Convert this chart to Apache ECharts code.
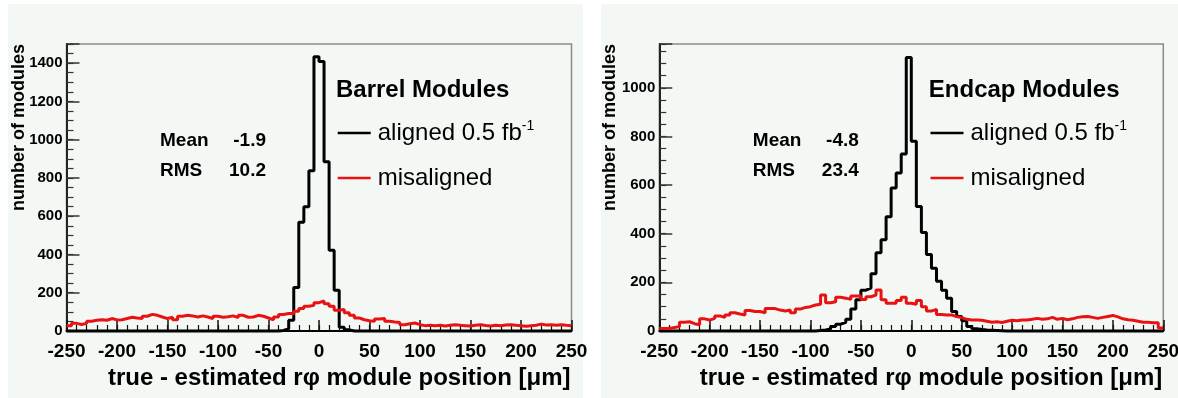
<!DOCTYPE html>
<html>
<head>
<meta charset="utf-8">
<title>Module position residuals</title>
<script src="https://cdn.jsdelivr.net/npm/echarts@6.0.0/dist/echarts.min.js"></script>
<style>
  html, body { margin: 0; padding: 0; background: #fff; }
  #chart { width: 1178px; height: 398px; }
</style>
</head>
<body>
<div id="chart"></div>
<script>
// histogram binning: 100 bins of 5 um from -250 to 250
const binLow = -250
const binWidth = 5

const barrelAligned = [
  0, 0, 0, 0, 0, 0, 0, 0, 0, 0,
  0, 0, 0, 0, 0, 0, 0, 0, 0, 0,
  0, 0, 0, 0, 0, 0, 0, 0, 0, 0,
  0, 0, 0, 0, 0, 0, 0, 0, 0, 0,
  0, 0, 3, 12, 56, 228, 568, 650, 838, 1434,
  1408, 885, 422, 213, 20, 6, 0, 0, 0, 0,
  0, 0, 0, 0, 0, 0, 0, 0, 0, 0,
  0, 0, 0, 0, 0, 0, 0, 0, 0, 0,
  0, 0, 0, 0, 0, 0, 0, 0, 0, 0,
  0, 0, 0, 0, 0, 0, 0, 0, 0, 0
]

const barrelMisaligned = [
  28, 40, 34, 40, 51, 56, 59, 56, 65, 58,
  59, 65, 72, 68, 65, 77, 87, 82, 73, 65,
  72, 59, 77, 82, 79, 73, 79, 73, 65, 77,
  72, 75, 79, 70, 82, 72, 73, 82, 77, 68,
  59, 73, 86, 91, 92, 103, 117, 129, 134, 148,
  157, 143, 129, 108, 113, 96, 82, 68, 59, 54,
  51, 63, 65, 51, 47, 44, 33, 38, 42, 33,
  28, 30, 28, 30, 26, 30, 33, 30, 28, 26,
  30, 33, 29, 26, 30, 28, 31, 33, 30, 28,
  25, 28, 30, 36, 31, 33, 30, 33, 30, 28
]

const endcapAligned = [
  0, 0, 0, 0, 0, 0, 0, 0, 0, 0,
  0, 0, 0, 0, 0, 0, 0, 0, 0, 0,
  0, 0, 0, 0, 0, 0, 0, 0, 0, 0,
  0, 2, 4, 8, 18, 28, 36, 48, 90, 128,
  168, 176, 235, 322, 375, 470, 588, 650, 728, 1125,
  780, 512, 405, 315, 258, 205, 168, 135, 80, 60,
  42, 18, 9, 6, 4, 3, 2, 1, 0, 0,
  0, 0, 0, 0, 0, 0, 0, 0, 0, 0,
  0, 0, 0, 0, 0, 0, 0, 0, 0, 0,
  0, 0, 0, 0, 0, 0, 0, 0, 0, 0
]

const endcapMisaligned = [
  10, 10, 14, 18, 36, 38, 30, 26, 50, 45,
  52, 62, 56, 66, 75, 70, 66, 84, 80, 80,
  75, 92, 92, 86, 82, 86, 75, 90, 97, 100,
  107, 110, 148, 116, 120, 139, 135, 130, 144, 144,
  130, 141, 148, 169, 128, 114, 114, 125, 139, 114,
  110, 125, 100, 82, 89, 68, 66, 66, 59, 55,
  48, 45, 45, 44, 40, 36, 38, 35, 40, 44,
  42, 45, 45, 48, 52, 48, 50, 56, 48, 52,
  46, 50, 56, 59, 60, 56, 52, 56, 60, 64,
  58, 50, 46, 44, 40, 36, 36, 34, 34, 12
]

const statLabels = ['Mean', 'RMS']
const barrelStats = ['-1.9', '10.2']
const endcapStats = ['-4.8', '23.4']
const panelTitles = ['Barrel Modules', 'Endcap Modules']
const seriesNames = ['aligned', 'misaligned']
const xTitle = 'true - estimated r\u03c6 module position [\u03bcm]'
const yTitle = 'number of modules'
const yMaxes = [1500, 1180]

const fontFamily = '"Liberation Sans", Arial, Helvetica, sans-serif'
const panelBg = '#f4f8f5'
const gridTop = 44
const gridHeight = 287

const panels = [
  { left: 66.5, width: 505, bgX: 8, bgW: 575, yTitleX: 19,
    aligned: barrelAligned, misaligned: barrelMisaligned, stats: barrelStats,
    title: panelTitles[0], yMax: yMaxes[0] },
  { left: 659.3, width: 504, bgX: 601, bgW: 577, yTitleX: 610,
    aligned: endcapAligned, misaligned: endcapMisaligned, stats: endcapStats,
    title: panelTitles[1], yMax: yMaxes[1] }
]

// points at the low edge of each bin, plus the upper edge of the last bin
const toSteps = (values) => {
  const pts = values.map((v, i) => [binLow + i * binWidth, v])
  pts.push([binLow + values.length * binWidth, values[values.length - 1]])
  return pts
}

const grid = []
const xAxis = []
const yAxis = []
const series = []
const legend = []
const graphic = []

panels.forEach((p, k) => {
  graphic.push({
    type: 'rect', z: -10, silent: true,
    shape: { x: p.bgX, y: 4, width: p.bgW, height: 394 },
    style: { fill: panelBg }
  })

  grid.push({
    left: p.left, top: gridTop, width: p.width, height: gridHeight,
    show: true, borderColor: '#8a8a8a', borderWidth: 1.5,
    backgroundColor: 'transparent', outerBoundsMode: 'none'
  })

  const xBase = { type: 'value', gridIndex: k, position: 'bottom', min: -250, max: 250, splitLine: { show: false } }
  xAxis.push({
    ...xBase, interval: 50,
    axisLine: { show: true, onZero: false, lineStyle: { color: '#000', width: 2 } },
    axisTick: { show: true, inside: true, length: 11, lineStyle: { color: '#111', width: 1.5 } },
    axisLabel: { color: '#000', fontSize: 19, fontWeight: 'bold', fontFamily, margin: 11 }
  })
  xAxis.push({
    ...xBase, interval: 10,
    axisLine: { show: false, onZero: false },
    axisTick: { show: true, inside: true, length: 6, lineStyle: { color: '#111', width: 1.2 } },
    axisLabel: { show: false }
  })

  const yBase = { type: 'value', gridIndex: k, position: 'left', min: 0, max: p.yMax, splitLine: { show: false } }
  yAxis.push({
    ...yBase, interval: 200,
    axisLine: { show: true, onZero: false, lineStyle: { color: '#222', width: 2 } },
    axisTick: { show: true, inside: true, length: 13, lineStyle: { color: '#333', width: 1.5 } },
    axisLabel: {
      color: '#000', fontSize: 15, fontWeight: 'bold', fontFamily, margin: 4,
      formatter: (v) => (v % 200 === 0 ? String(v) : '')
    }
  })
  yAxis.push({
    ...yBase, interval: 50,
    axisLine: { show: false, onZero: false },
    axisTick: { show: true, inside: true, length: 7, lineStyle: { color: '#333', width: 1.2 } },
    axisLabel: { show: false }
  })

  series.push({
    name: seriesNames[0], type: 'line', step: 'end',
    xAxisIndex: 2 * k, yAxisIndex: 2 * k,
    data: toSteps(p.aligned), symbol: 'none', clip: false,
    color: '#000', itemStyle: { color: '#000' },
    lineStyle: { color: '#000', width: 3 }, z: 3
  })
  series.push({
    name: seriesNames[1], type: 'line', step: 'end',
    xAxisIndex: 2 * k, yAxisIndex: 2 * k,
    data: toSteps(p.misaligned), symbol: 'none', clip: false,
    color: '#e81212', itemStyle: { color: '#e81212' },
    lineStyle: { color: '#e81212', width: 3 }, z: 4
  })

  legend.push({
    left: p.left + 271.2, top: 119, orient: 'vertical', padding: 0,
    icon: 'rect', itemWidth: 33, itemHeight: 2.5, itemGap: 17,
    selectedMode: false, data: seriesNames,
    formatter: (name) => (name === 'aligned' ? 'aligned 0.5 fb{sup|-1}' : name),
    textStyle: {
      fontSize: 24, lineHeight: 28, color: '#000', fontFamily, padding: [0, 0, 0, 2],
      rich: { sup: { fontSize: 14, lineHeight: 14, verticalAlign: 'top', color: '#000', fontFamily } }
    }
  })

  graphic.push({
    type: 'text', x: p.yTitleX, y: gridTop, rotation: Math.PI / 2,
    style: { text: yTitle, fontSize: 18, fontWeight: 'bold', fontFamily, fill: '#000', align: 'right', verticalAlign: 'middle' }
  })
  graphic.push({
    type: 'text', x: p.left + p.width - 1, y: 378,
    style: { text: xTitle, fontSize: 24, fontWeight: 'bold', fontFamily, fill: '#000', align: 'right', verticalAlign: 'middle' }
  })
  graphic.push({
    type: 'text', x: p.left + 269.5, y: 90,
    style: { text: p.title, fontSize: 24, fontWeight: 'bold', fontFamily, fill: '#000', align: 'left', verticalAlign: 'middle' }
  })
  statLabels.forEach((label, j) => {
    graphic.push({
      type: 'text', x: p.left + 93.5, y: 141 + 30 * j,
      style: { text: label, fontSize: 19, fontWeight: 'bold', fontFamily, fill: '#000', align: 'left', verticalAlign: 'middle' }
    })
    graphic.push({
      type: 'text', x: p.left + 199.5, y: 141 + 30 * j,
      style: { text: p.stats[j], fontSize: 19, fontWeight: 'bold', fontFamily, fill: '#000', align: 'right', verticalAlign: 'middle' }
    })
  })
})

const chart = echarts.init(document.getElementById('chart'), null, { renderer: 'canvas' })
chart.setOption({
  animation: false,
  backgroundColor: '#fff',
  grid,
  xAxis,
  yAxis,
  series,
  legend,
  graphic
})
</script>
</body>
</html>
